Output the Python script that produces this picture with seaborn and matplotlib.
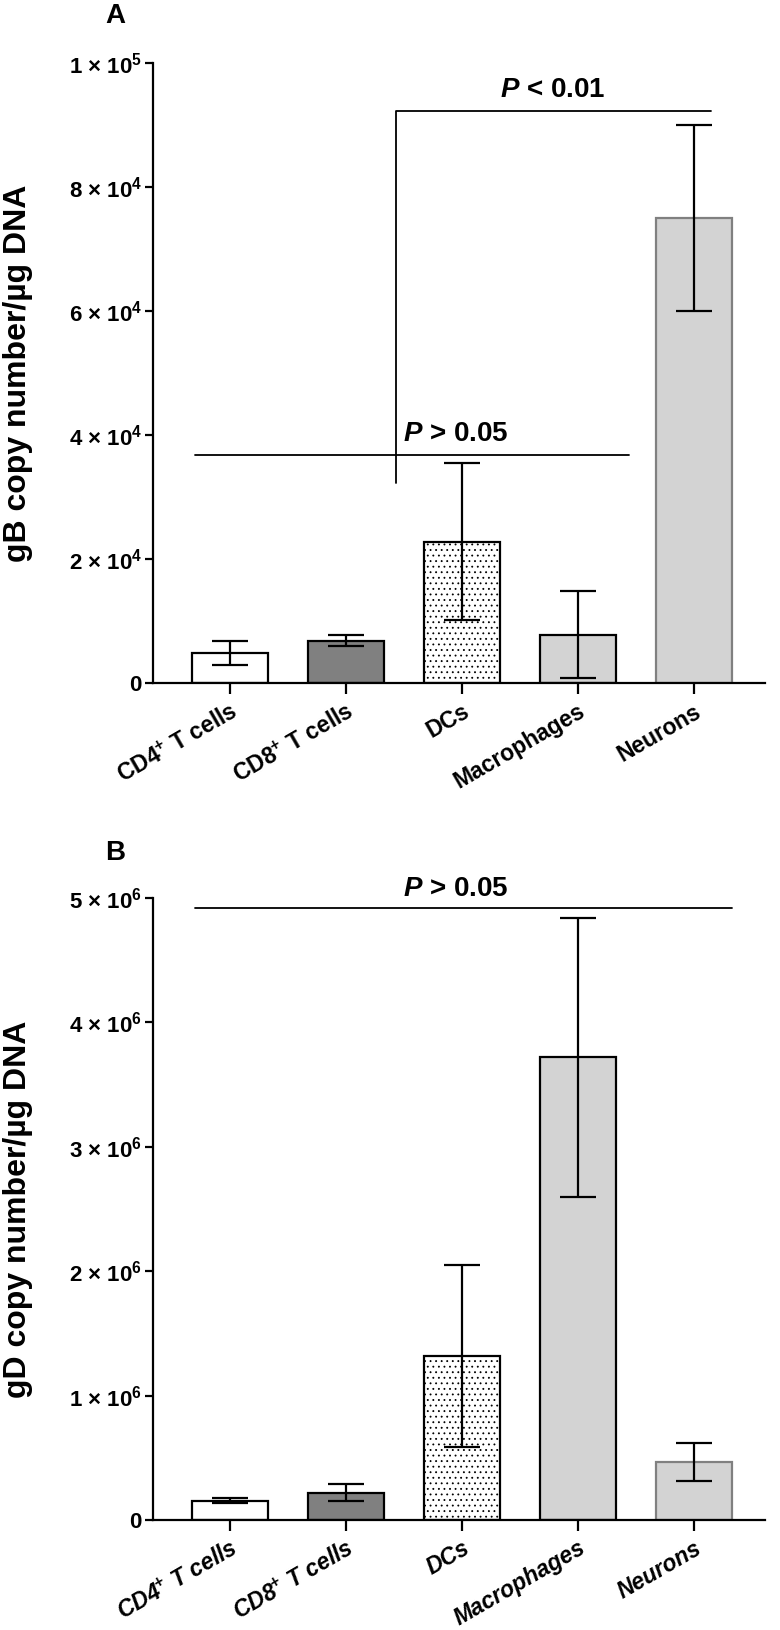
import matplotlib
matplotlib.use("Agg")
import matplotlib.pyplot as plt
import seaborn as sns

# data (mean +/- error)
cells = ["CD4$^{+}$ T cells", "CD8$^{+}$ T cells", "DCs", "Macrophages", "Neurons"]
gb_mean = [4800, 6800, 22800, 7800, 75000]
gb_err = [1900, 900, 12700, 7000, 15000]
gd_mean = [155000, 220000, 1320000, 3720000, 465000]
gd_err = [20000, 70000, 730000, 1120000, 155000]

gb_ticks = [0, 20000, 40000, 60000, 80000, 100000]
gb_ticklabels = ["0", "2 × 10$^{4}$", "4 × 10$^{4}$", "6 × 10$^{4}$", "8 × 10$^{4}$", "1 × 10$^{5}$"]
gd_ticks = [0, 1e6, 2e6, 3e6, 4e6, 5e6]
gd_ticklabels = ["0", "1 × 10$^{6}$", "2 × 10$^{6}$", "3 × 10$^{6}$", "4 × 10$^{6}$", "5 × 10$^{6}$"]

fills = ["white", "#808080", "white", "#d3d3d3", "#d3d3d3"]
edges = ["black", "black", "black", "black", "#808080"]
hatches = ["", "", "...", "", ""]

sns.set_theme(style="ticks")
plt.rcParams["font.family"] = ["Liberation Sans", "DejaVu Sans"]
plt.rcParams["font.weight"] = "bold"
plt.rcParams["text.color"] = "black"
plt.rcParams["axes.labelcolor"] = "black"
plt.rcParams["xtick.color"] = "black"
plt.rcParams["ytick.color"] = "black"
plt.rcParams["mathtext.fontset"] = "custom"
plt.rcParams["mathtext.rm"] = "Liberation Sans:bold"
plt.rcParams["mathtext.bf"] = "Liberation Sans:bold"
plt.rcParams["mathtext.it"] = "Liberation Sans:bold:italic"
plt.rcParams["mathtext.default"] = "bf"
plt.rcParams["hatch.linewidth"] = 0.6
plt.rcParams["hatch.color"] = "#333333"

fig = plt.figure(figsize=(7.8, 16.3), dpi=100)
W, H = 780, 1630


def add_panel(left, top, right, bottom):
    return fig.add_axes([left / W, 1 - bottom / H, (right - left) / W, (bottom - top) / H])


def draw_panel(ax, means, errs, ticks, ticklabels, ylabel, italic):
    sns.barplot(x=cells, y=means, hue=cells, palette=fills, width=0.655,
                saturation=1, legend=False, ax=ax, errorbar=None)
    for p, fc, ec, h in zip(ax.patches, fills, edges, hatches):
        p.set_facecolor(fc)
        p.set_edgecolor(ec)
        p.set_linewidth(1.6)
        p.set_hatch(h)
    ax.errorbar(range(len(cells)), means, yerr=errs, fmt="none", ecolor="black",
                elinewidth=1.6, capsize=13, capthick=1.6, zorder=5)
    ax.set_xlim(-0.664, 4.612)
    ax.set_ylim(0, ticks[-1])
    ax.set_yticks(ticks)
    ax.set_yticklabels(ticklabels, fontsize=16, fontweight="bold", color="black")
    ax.set_xticks(range(len(cells)))
    ax.set_xticklabels(cells, rotation=30, ha="right", rotation_mode="anchor",
                       fontsize=16.5, fontweight="bold", color="black",
                       fontstyle="italic" if italic else "normal")
    ax.set_xlabel("")
    ax.set_ylabel(ylabel, fontsize=23, fontweight="bold", color="black")
    ax.yaxis.set_label_coords(-0.196, 0.5)
    sns.despine(ax=ax)
    for s in ["left", "bottom"]:
        ax.spines[s].set_linewidth(1.6)
        ax.spines[s].set_color("black")
    ax.tick_params(axis="y", direction="out", length=6, width=1.6, color="black", pad=2)
    ax.tick_params(axis="x", direction="out", length=8, width=1.6, color="black", pad=4)


# panel A
ax1 = add_panel(153, 63, 765, 683)
draw_panel(ax1, gb_mean, gb_err, gb_ticks, gb_ticklabels, "gB copy number/µg DNA", False)
ax1.plot([-0.30, 3.44], [36700, 36700], color="black", lw=1.3, clip_on=False)
ax1.text(1.95, 38000, "$\\mathit{P}$ > 0.05", ha="center", va="bottom", fontsize=20, fontweight="bold")
ax1.plot([1.43, 1.43, 4.15], [32300, 92200, 92200], color="black", lw=1.3, clip_on=False)
ax1.text(2.78, 93500, "$\\mathit{P}$ < 0.01", ha="center", va="bottom", fontsize=20, fontweight="bold")
fig.text(115 / W, 1 - 16 / H, "A", ha="center", va="center", fontsize=20, fontweight="bold")

# panel B
ax2 = add_panel(153, 898, 765, 1520)
draw_panel(ax2, gd_mean, gd_err, gd_ticks, gd_ticklabels, "gD copy number/µg DNA", True)
ax2.plot([-0.30, 4.33], [4.92e6, 4.92e6], color="black", lw=1.3, clip_on=False)
ax2.text(1.95, 4.97e6, "$\\mathit{P}$ > 0.05", ha="center", va="bottom", fontsize=20,
         fontweight="bold", clip_on=False)
fig.text(115 / W, 1 - 853 / H, "B", ha="center", va="center", fontsize=20, fontweight="bold")

fig.savefig("out.png", dpi=100)
